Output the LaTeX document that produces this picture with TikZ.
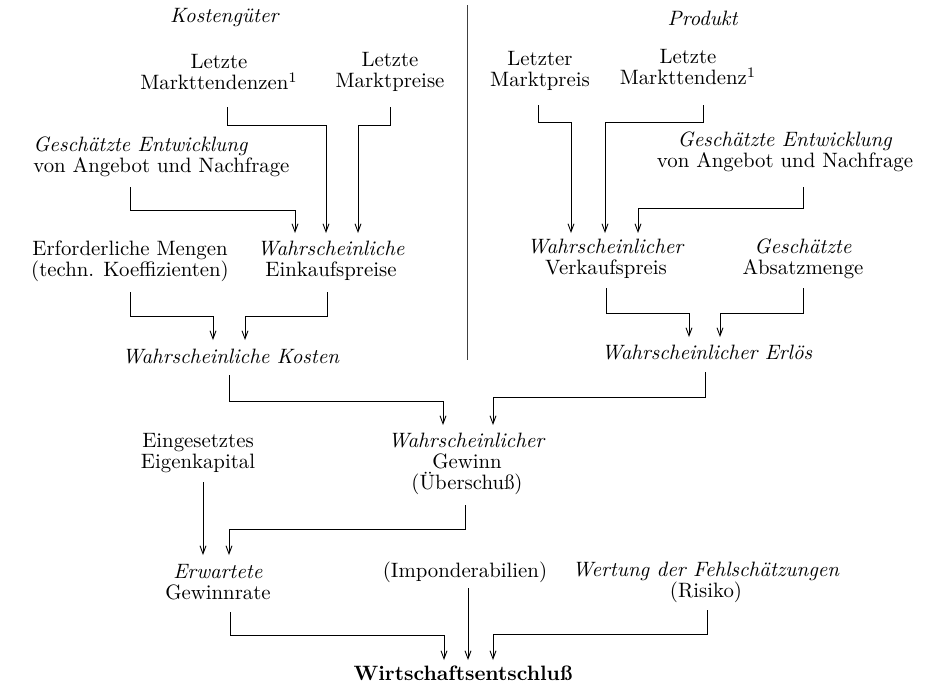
\documentclass[tikz,border=0pt]{standalone}
\usetikzlibrary{arrows.meta,calc}
\begin{document}
\begin{tikzpicture}[x=0.5pt,y=-0.5pt,
  txt/.style={align=center,inner sep=0pt,font=\fontsize{10.4pt}{10.6pt}\selectfont},
  conn/.style={line width=0.45pt,-{Straight Barb[length=4pt,width=3pt]}},
  rule/.style={line width=0.4pt,black!75}]
\useasboundingbox (0,0) rectangle (933,686);
% headings
\node[txt] (kg) at (225,18) {\textit{Kostengüter}};
\node[txt] (pr) at (703,18) {\textit{Produkt}};
\coordinate (dtop) at (467,5);
\coordinate (dbot) at (467,360);
\draw[rule] (dtop) -- (dbot);
% left column
\node[txt] (mtL) at (219,72) {Letzte\\Markttendenzen\textsuperscript{1}};
\node[txt] (mpL) at (390,72) {Letzte\\Marktpreise};
\node[txt,align=left,anchor=west] (geL) at (33,157) {\textit{Geschätzte Entwicklung}\\von Angebot und Nachfrage};
\node[txt] (emL) at (130,261) {Erforderliche Mengen\\(techn. Koeffizienten)};
\node[txt] (wEk) at (331,261) {\textit{Wahrscheinliche}\\Einkaufspreise};
\node[txt] (wK) at (231,357) {\textit{Wahrscheinliche Kosten}};
% right column
\node[txt] (mpR) at (540,71) {Letzter\\Marktpreis};
\node[txt] (mtR) at (688,67) {Letzte\\Markttendenz\textsuperscript{1}};
\node[txt] (geR) at (785,152) {\textit{Geschätzte Entwicklung}\\von Angebot und Nachfrage};
\node[txt] (wV) at (606,259) {\textit{Wahrscheinlicher}\\Verkaufspreis};
\node[txt] (gA) at (803,259) {\textit{Geschätzte}\\Absatzmenge};
\node[txt] (wE) at (707,353) {\textit{Wahrscheinlicher Erlös}};
% bottom
\node[txt] (eK) at (198,453) {Eingesetztes\\Eigenkapital};
\node[txt] (wG) at (467,464) {\textit{Wahrscheinlicher}\\Gewinn\\(Überschuß)};
\node[txt] (eG) at (218,582) {\textit{Erwartete}\\Gewinnrate};
\node[txt] (imp) at (465,572) {(Imponderabilien)};
\node[txt] (wF) at (706,582) {\textit{Wertung der Fehlschätzungen}\\(Risiko)};
\node[txt] (ws) at (463,673) {\textbf{Wirtschaftsentschluß}};
% connectors
\draw[conn] ($(mtL.center)+(8,35)$) -- ++(0,18) -| ($(wEk.center)+(-5,-28)$);
\draw[conn] ($(mpL.center)+(0,35)$) -- ++(0,18) -| ($(wEk.center)+(27,-28)$);
\draw[conn] ($(geL.west)+(97,30)$) -- ++(0,23) -| ($(wEk.center)+(-36,-28)$);
\draw[conn] ($(emL.center)+(0,31)$) -- ++(0,24) -| ($(wK.center)+(-18,-17)$);
\draw[conn] ($(wEk.center)+(-4,31)$) -- ++(0,24) -| ($(wK.center)+(14,-17)$);
\draw[conn] ($(wK.center)+(-2,18)$) -- ++(0,26) -| ($(wG.center)+(-24,-39)$);
\draw[conn] ($(mpR.center)+(-2,34)$) -- ++(0,17) -| ($(wV.center)+(-35,-26)$);
\draw[conn] ($(mtR.center)+(15,38)$) -- ++(0,17) -| ($(wV.center)+(-1,-26)$);
\draw[conn] ($(geR.center)+(18,35)$) -- ++(0,21) -| ($(wV.center)+(32,-26)$);
\draw[conn] ($(wV.center)+(0,29)$) -- ++(0,25) -| ($(wE.center)+(-18,-16)$);
\draw[conn] ($(gA.center)+(0,29)$) -- ++(0,25) -| ($(wE.center)+(13,-16)$);
\draw[conn] ($(wE.center)+(-2,19)$) -- ++(0,25) -| ($(wG.center)+(26,-39)$);
\draw[conn] ($(eK.center)+(5,29)$) -- ($(eG.center)+(-15,-27)$);
\draw[conn] ($(wG.center)+(-2,41)$) -- ++(0,24) -| ($(eG.center)+(11,-27)$);
\draw[conn] ($(eG.center)+(12,30)$) -- ++(0,23) -| ($(ws.center)+(-19,-13)$);
\draw[conn] ($(imp.center)+(3,16)$) -- ($(ws.center)+(5,-13)$);
\draw[conn] ($(wF.center)+(1,28)$) -- ++(0,24) -| ($(ws.center)+(30,-13)$);
\end{tikzpicture}
\end{document}
